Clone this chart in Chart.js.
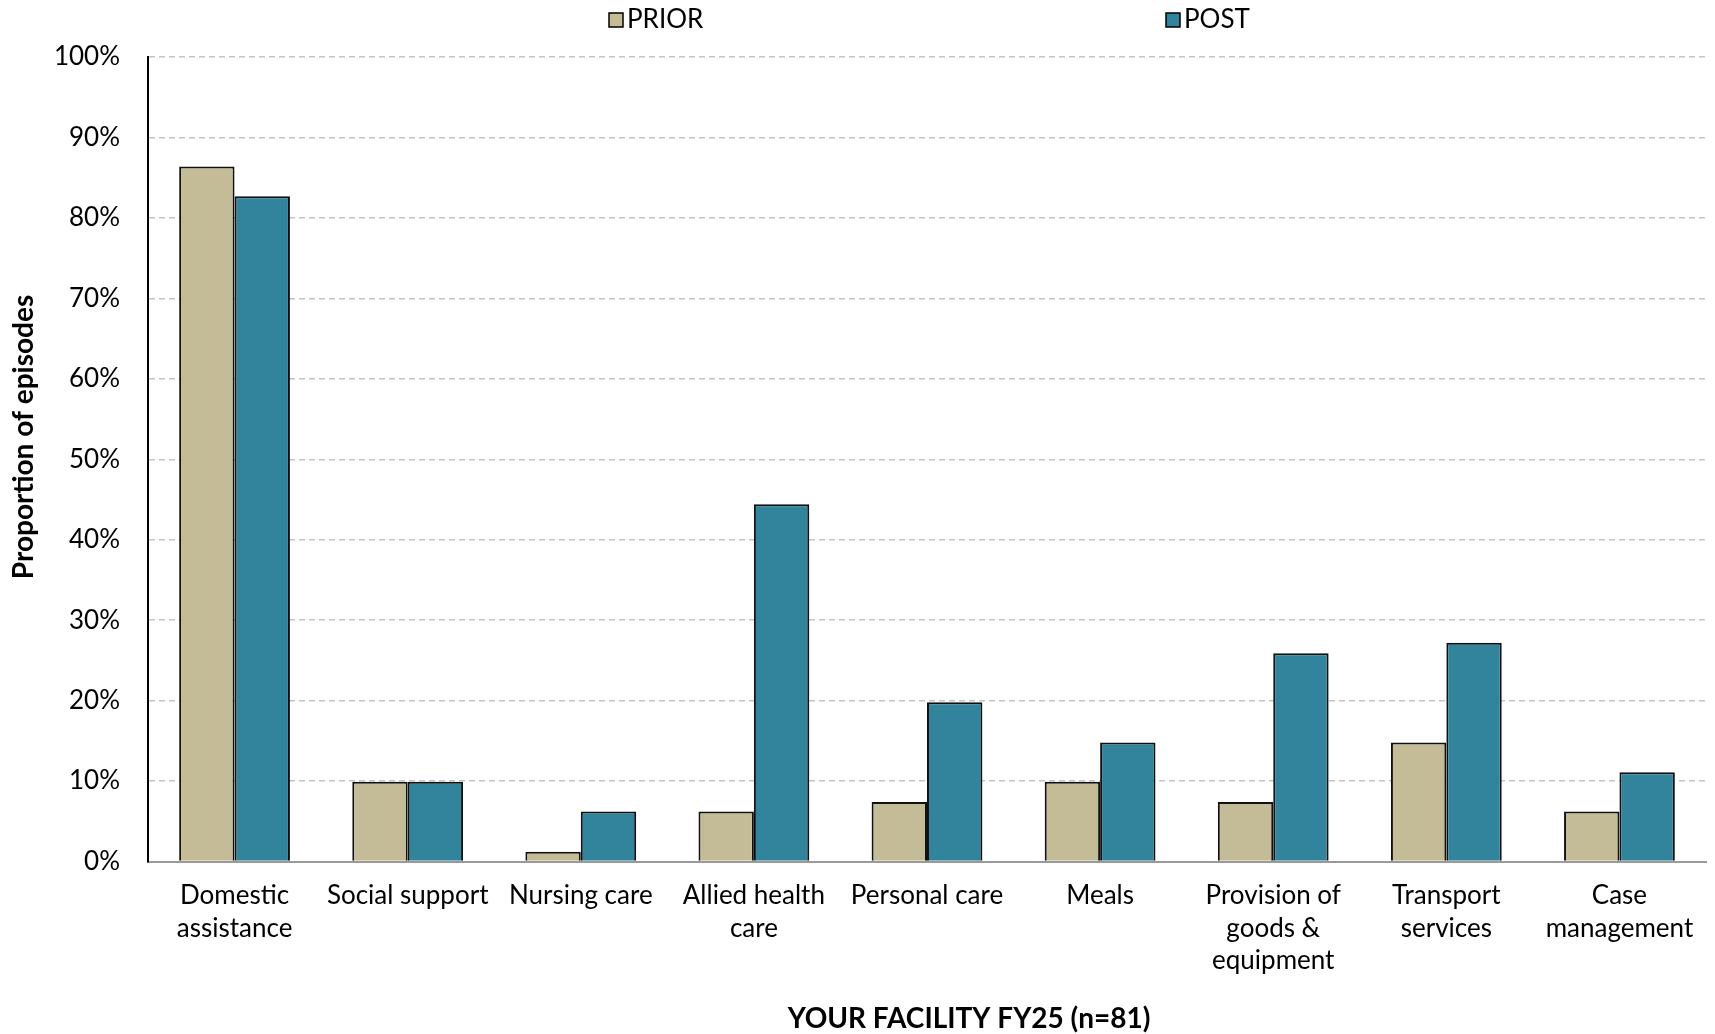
<!DOCTYPE html>
<html>
<head>
<meta charset="utf-8">
<script src="https://cdn.jsdelivr.net/npm/chart.js@4.4.1/dist/chart.umd.min.js"></script>
<style>
  html, body { margin: 0; padding: 0; background: #fff; }
  #wrap { width: 1715px; height: 1034px; position: relative; }
</style>
</head>
<body>
<div id="wrap"><canvas id="servicesChart"></canvas></div>
<script>
// Kategórie služieb (popisky osi X)
const categories = [
    ['Domestic', 'assistance'],
    'Social support',
    'Nursing care',
    ['Allied health', 'care'],
    'Personal care',
    'Meals',
    ['Provision of', 'goods &', 'equipment'],
    ['Transport', 'services'],
    ['Case', 'management']
];
const priorValues = [86.4, 9.9, 1.2, 6.2, 7.4, 9.9, 7.4, 14.8, 6.2];
const postValues = [82.7, 9.9, 6.2, 44.4, 19.8, 14.8, 25.9, 27.2, 11.1];
const yTicks = [0, 10, 20, 30, 40, 50, 60, 70, 80, 90, 100];
const xTitle = 'YOUR FACILITY FY25 (n=81)';
const yTitle = 'Proportion of episodes';

const FONT = "'Lato', 'DejaVu Sans', sans-serif";

// Vlastná legenda – dve položky ďaleko od seba
const legendPlugin = {
    id: 'spreadLegend',
    afterDraw(chart) {
        const ctx = chart.ctx;
        const xs = [609, 1166];
        ctx.save();
        ctx.font = '26px ' + FONT;
        ctx.textBaseline = 'middle';
        chart.data.datasets.forEach((ds, i) => {
            const x = xs[i];
            const y = 20;
            ctx.fillStyle = ds.backgroundColor;
            ctx.strokeStyle = '#000';
            ctx.lineWidth = 1.5;
            ctx.fillRect(x, y - 7, 14, 14);
            ctx.strokeRect(x, y - 7, 14, 14);
            ctx.fillStyle = '#000';
            ctx.textAlign = 'left';
            ctx.fillText(ds.label, x + 18, y);
        });
        ctx.restore();
    }
};

// Názvy osí – posunuté mimo stred plochy grafu ako v origináli
const axisTitlesPlugin = {
    id: 'axisTitles',
    afterDraw(chart) {
        const ctx = chart.ctx;
        ctx.save();
        ctx.fillStyle = '#000';
        ctx.font = 'bold 28px ' + FONT;
        ctx.textAlign = 'center';
        ctx.textBaseline = 'middle';
        ctx.fillText(xTitle, 969, 1019);
        ctx.translate(24, 437);
        ctx.rotate(-Math.PI / 2);
        ctx.fillText(yTitle, 0, 0);
        ctx.restore();
    }
};

function createChart() {
    const ctx = document.getElementById('servicesChart').getContext('2d');
    new Chart(ctx, {
        type: 'bar',
        data: {
            labels: categories,
            datasets: [
                {
                    label: 'PRIOR',
                    data: priorValues,
                    backgroundColor: '#C4BC97',
                    borderColor: '#111',
                    borderWidth: 2,
                    borderSkipped: 'bottom'
                },
                {
                    label: 'POST',
                    data: postValues,
                    backgroundColor: '#31849B',
                    borderColor: '#111',
                    borderWidth: 2,
                    borderSkipped: 'bottom'
                }
            ]
        },
        options: {
            responsive: true,
            maintainAspectRatio: false,
            animation: false,
            layout: { padding: { top: 57, right: 9, left: 0, bottom: 47 } },
            datasets: {
                bar: { categoryPercentage: 0.64, barPercentage: 1.0 }
            },
            plugins: {
                legend: { display: false },
                tooltip: { enabled: false }
            },
            scales: {
                x: {
                    grid: { display: false },
                    border: { display: true, color: '#9a9a9a', width: 2 },
                    ticks: {
                        color: '#000',
                        font: { size: 26, family: FONT, lineHeight: 1.25 },
                        maxRotation: 0,
                        autoSkip: false,
                        padding: 10
                    }
                },
                y: {
                    min: 0,
                    max: 100,
                    afterBuildTicks: (axis) => {
                        axis.ticks = yTicks.map(v => ({ value: v }));
                    },
                    afterFit: (axis) => {
                        axis.width = 148;
                    },
                    grid: {
                        color: '#c4c4c4',
                        lineWidth: 1.5,
                        drawTicks: false
                    },
                    border: { display: true, color: '#000', width: 2, dash: [6, 4] },
                    ticks: {
                        color: '#000',
                        padding: 28,
                        font: { size: 26, family: FONT },
                        callback: v => v + '%'
                    }
                }
            }
        },
        plugins: [legendPlugin, axisTitlesPlugin]
    });
}

window.addEventListener('load', createChart);
</script>
</body>
</html>
